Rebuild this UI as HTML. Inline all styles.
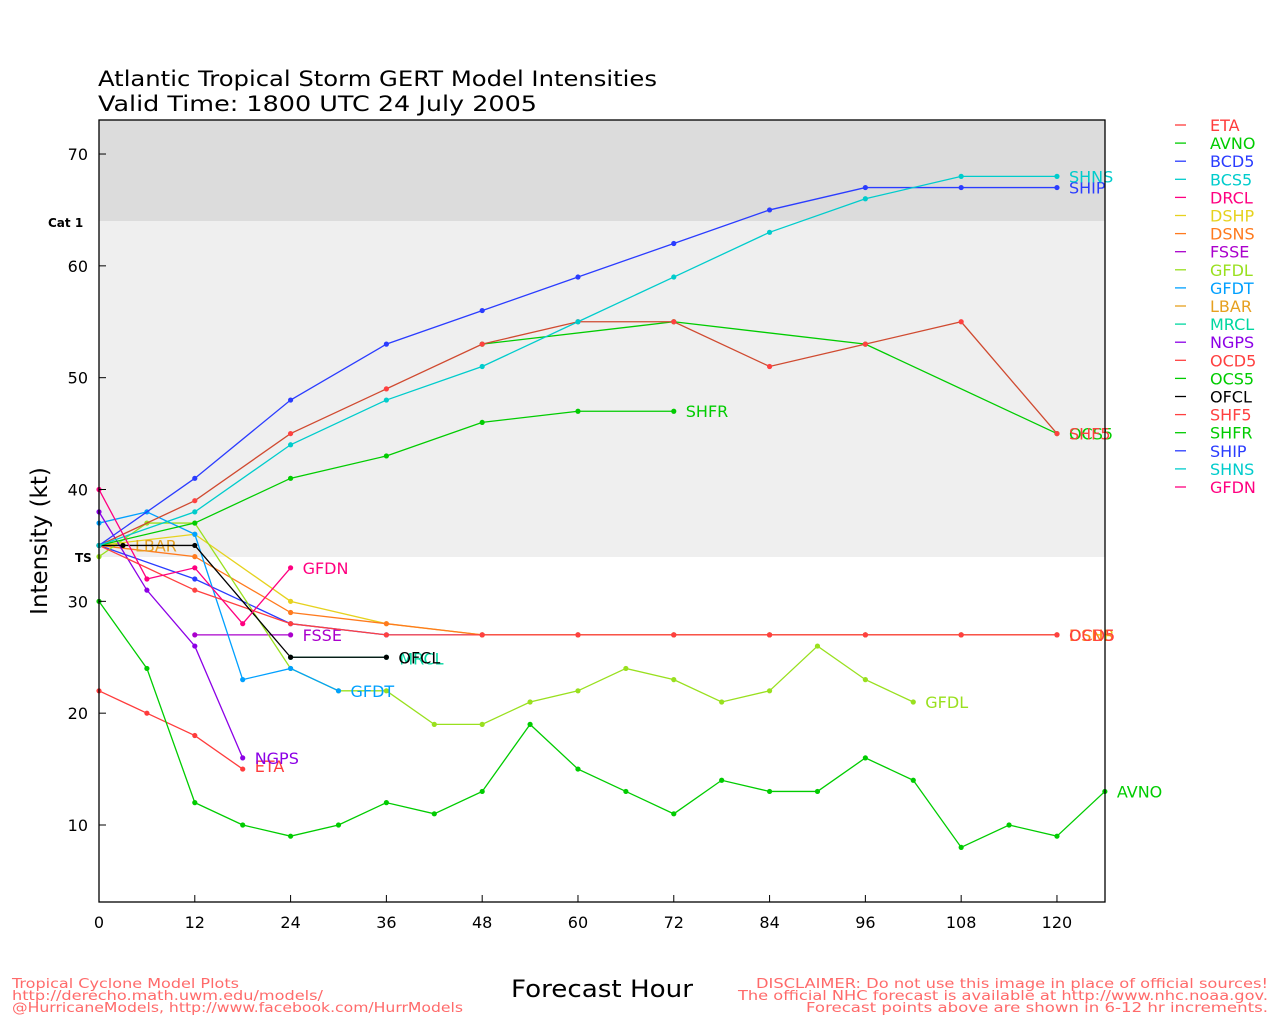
<!DOCTYPE html>
<html><head><meta charset="utf-8"><style>body{margin:0;background:#fff}svg{display:block}</style></head>
<body>
<svg id="s" width="1280" height="1024" xmlns="http://www.w3.org/2000/svg" font-family="DejaVu Sans, Liberation Sans, sans-serif">
<rect x="99" y="120" width="1006" height="101" fill="#dcdcdc"/>
<rect x="99" y="221" width="1006" height="336" fill="#efefef"/>
<text x="98" y="86" font-size="21" textLength="559" lengthAdjust="spacingAndGlyphs">Atlantic Tropical Storm GERT Model Intensities</text>
<text x="98" y="111" font-size="21" textLength="439" lengthAdjust="spacingAndGlyphs">Valid Time: 1800 UTC 24 July 2005</text>
<text x="48" y="227" font-size="12" font-weight="bold">Cat 1</text>
<text x="75" y="562" font-size="12" font-weight="bold">TS</text>
<text transform="translate(47,541) rotate(-90)" font-size="23" text-anchor="middle">Intensity (kt)</text>
<text x="511" y="997" font-size="24" textLength="182" lengthAdjust="spacingAndGlyphs">Forecast Hour</text>
<g font-size="13" fill="#ff6a6a" lengthAdjust="spacingAndGlyphs">
<text x="12" y="988" textLength="227" lengthAdjust="spacingAndGlyphs">Tropical Cyclone Model Plots</text>
<text x="12" y="1000" textLength="311" lengthAdjust="spacingAndGlyphs">http://derecho.math.uwm.edu/models/</text>
<text x="12" y="1012" textLength="451" lengthAdjust="spacingAndGlyphs">@HurricaneModels, http://www.facebook.com/HurrModels</text>
<text x="756" y="988" textLength="512" lengthAdjust="spacingAndGlyphs">DISCLAIMER: Do not use this image in place of official sources!</text>
<text x="738" y="1000" textLength="530" lengthAdjust="spacingAndGlyphs">The official NHC forecast is available at http://www.nhc.noaa.gov.</text>
<text x="806" y="1012" textLength="462" lengthAdjust="spacingAndGlyphs">Forecast points above are shown in 6-12 hr increments.</text>
</g>
<g id="plot"></g>
<rect x="99" y="120" width="1006" height="782" fill="none" stroke="#000" stroke-width="1.3"/>
<g id="ax" font-size="16"></g>
<g id="leg" font-size="16"></g>
</svg>
<script>
var NS="http://www.w3.org/2000/svg";
function X(h){return 99+h*7.983}function Y(v){return 825-(v-10)*11.183}
function el(p,t,a,txt){var e=document.createElementNS(NS,t);for(var k in a)e.setAttribute(k,a[k]);if(txt)e.textContent=txt;p.appendChild(e);return e}
var ax=document.getElementById('ax');
[0,12,24,36,48,60,72,84,96,108,120].forEach(function(h){el(ax,'line',{x1:X(h),x2:X(h),y1:902,y2:895,stroke:'#000'});el(ax,'text',{x:X(h),y:928,'text-anchor':'middle'},String(h))});
[10,20,30,40,50,60,70].forEach(function(v){el(ax,'line',{x1:99,x2:106,y1:Y(v),y2:Y(v),stroke:'#000'});el(ax,'text',{x:88,y:Y(v)+6,'text-anchor':'end'},String(v))});
var S=[
["ETA","#ff3c3c",[[0,22],[6,20],[12,18],[18,15]],"ETA",[0,-3]],
["AVNO","#00cc00",[[0,30],[6,24],[12,12],[18,10],[24,9],[30,10],[36,12],[42,11],[48,13],[54,19],[60,15],[66,13],[72,11],[78,14],[84,13],[90,13],[96,16],[102,14],[108,8],[114,10],[120,9],[126,13]],"AVNO"],
["BCD5","#2a3cff",[[0,35],[12,32],[24,28],[36,27],[48,27],[60,27],[72,27],[84,27],[96,27],[108,27],[120,27]],null],
["BCS5","#00cccc",[],null],
["DRCL","#ff0080",[],null],
["DSHP","#e6d21e",[[0,35],[12,36],[24,30],[36,28],[48,27],[60,27],[72,27],[84,27],[96,27],[108,27],[120,27]],"DSHP"],
["DSNS","#ff7a1e",[[0,35],[12,34],[24,29],[36,28],[48,27],[60,27],[72,27],[84,27],[96,27],[108,27],[120,27]],"DSNS"],
["FSSE","#aa00cc",[[12,27],[24,27]],"FSSE"],
["GFDL","#99e01e",[[0,34],[6,37],[12,37],[24,24],[30,22],[36,22],[42,19],[48,19],[54,21],[60,22],[66,24],[72,23],[78,21],[84,22],[90,26],[96,23],[102,21]],"GFDL"],
["GFDT","#00a0ff",[[0,37],[6,38],[12,36],[18,23],[24,24],[30,22]],"GFDT"],
["LBAR","#e6a020",[[0,35],[3,35]],"LBAR"],
["MRCL","#00d7a0",[[24,25],[36,25]],"MRCL",[1,1]],
["NGPS","#8c00e6",[[0,38],[6,31],[12,26],[18,16]],"NGPS"],
["OCD5","#ff4040",[[0,35],[12,31],[24,28],[36,27],[48,27],[60,27],[72,27],[84,27],[96,27],[108,27],[120,27]],"OCD5"],
["OCS5","#00cc00",[[48,53],[72,55],[96,53],[120,45]],"OCS5"],
["OFCL","#000000",[[0,35],[3,35],[12,35],[24,25],[36,25]],"OFCL"],
["SHF5","#d04a30",[[0,35],[12,39],[24,45],[36,49],[48,53],[60,55],[72,55],[84,51],[96,53],[108,55],[120,45]],"SHF5"],
["SHFR","#00cc00",[[0,35],[12,37],[24,41],[36,43],[48,46],[60,47],[72,47]],"SHFR"],
["SHIP","#2a3cff",[[0,35],[12,41],[24,48],[36,53],[48,56],[60,59],[72,62],[84,65],[96,67],[108,67],[120,67]],"SHIP"],
["SHNS","#00cccc",[[0,35],[12,38],[24,44],[36,48],[48,51],[60,55],[72,59],[84,63],[96,66],[108,68],[120,68]],"SHNS"],
["GFDN","#ff0080",[[0,40],[6,32],[12,33],[18,28],[24,33]],"GFDN"]];
var LC={"SHF5":"#ff4040"};
var P=document.getElementById('plot'),L=document.getElementById('leg');
S.forEach(function(s,i){
 var pts=s[2];
 if(pts.length){el(P,'polyline',{points:pts.map(function(p){return X(p[0])+','+Y(p[1])}).join(' '),fill:'none',stroke:s[1],'stroke-width':1.3});
 pts.forEach(function(p){el(P,'circle',{cx:X(p[0]),cy:Y(p[1]),r:2.6,fill:LC[s[0]]||s[1]})});
 if(s[3]){var l=pts[pts.length-1],o=s[4]||[0,0];el(P,'text',{x:X(l[0])+12+o[0],y:Y(l[1])+6+o[1],fill:LC[s[0]]||s[1],'font-size':16},s[3])}}
 var y=125+i*18.1;
 el(L,'line',{x1:1175,x2:1186,y1:y,y2:y,stroke:LC[s[0]]||s[1],'stroke-width':1.3});
 el(L,'text',{x:1210,y:y+6,fill:LC[s[0]]||s[1]},s[0]);
});
</script>
</body></html>
